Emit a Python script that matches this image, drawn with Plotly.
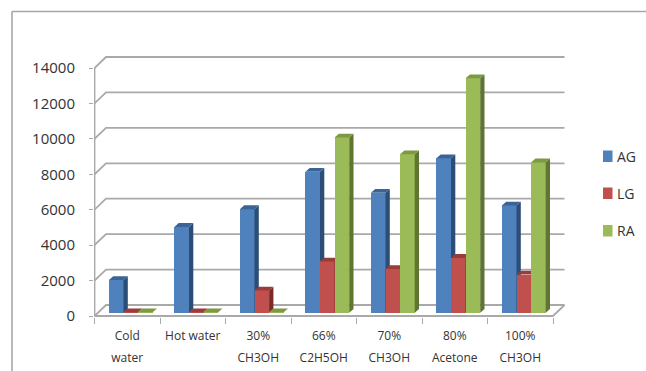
import plotly.graph_objects as go

# Extraction solvents and the measured amounts for each compound
line_one = ["Cold", "Hot water", "30%", "66%", "70%", "80%", "100%"]
line_two = ["water", " ", "CH3OH", "C2H5OH", "CH3OH", "Acetone", "CH3OH"]
y_ticks = [0, 2000, 4000, 6000, 8000, 10000, 12000, 14000]
y_tick_text = ["0", "2000", "4000", "6000", "8000", "10000", "12000", "14000"]

ag_values = [1850, 4850, 5850, 7960, 6770, 8720, 6060]
lg_values = [30, 30, 1260, 2900, 2470, 3100, 2160]
ra_values = [30, 30, 30, 9900, 8950, 13240, 8490]

W, H = 646, 371
PLOT_L, PLOT_R, PLOT_T, PLOT_B = 94, 566, 56, 317
X0_PX, Y0_PX = 94.5, 316
PX_PER_CAT = 65.5
PX_PER_UNIT = 248 / 14000

# Pseudo-3D depth of the chart box and of the bars, in pixels
WALL_DX, WALL_DY = 11.5, 11
BAR_SHIFT_DY = 3.2
BAR_INSET = 14.4
BAR_DX, BAR_DY = 4.3, 3.8
BAR_PX = 14.6


def ux(px):
    return px / PX_PER_CAT


def uy(px):
    return px / PX_PER_UNIT


def px_x(px):
    return (px - PLOT_L) / (PLOT_R - PLOT_L)


def px_y(px):
    return (PLOT_B - px) / (PLOT_B - PLOT_T)


GRID = "#a9a9a9"
fig = go.Figure()

# Floor, back-wall gridlines and the left wall edge
grid_x, grid_y = [], []
for t in y_ticks:
    grid_x += [0, ux(WALL_DX), 7 + ux(WALL_DX), None]
    grid_y += [t, t + uy(WALL_DY), t + uy(WALL_DY), None]
grid_x += [0, 0, None, 0, 7, 7 + ux(WALL_DX)]
grid_y += [0, 14000, None, 0, 0, uy(WALL_DY)]
fig.add_trace(go.Scatter(x=grid_x, y=grid_y, mode="lines", hoverinfo="skip",
                         line=dict(color=GRID, width=1.8), cliponaxis=False,
                         showlegend=False))

series = [
    ("AG", ag_values, "#4f81bd", "#2c4d75", "#3a6496", "x2", "y2"),
    ("LG", lg_values, "#c0504d", "#772c2a", "#9a3d3a", "x3", "y3"),
    ("RA", ra_values, "#9bbb59", "#5f7530", "#7d9a42", "x4", "y4"),
]

for s, (name, values, front, side, top, xa, ya) in enumerate(series):
    lefts = [i + ux(BAR_INSET) + s * ux(BAR_PX) for i in range(7)]
    fig.add_trace(go.Bar(x=[l + ux(BAR_PX) / 2 for l in lefts], y=values,
                         base=uy(BAR_SHIFT_DY), width=ux(BAR_PX), name=name,
                         marker=dict(color=front, line=dict(width=0)),
                         xaxis=xa, yaxis=ya, showlegend=False))
    # Side and top faces of each bar, offset along the depth direction
    sx, sy, tx, ty = [], [], [], []
    for l, v in zip(lefts, values):
        r = l + ux(BAR_PX)
        b = uy(BAR_SHIFT_DY)
        hi = v + b
        sx += [r, r + ux(BAR_DX), r + ux(BAR_DX), r, r, None]
        sy += [b, b + uy(BAR_DY), hi + uy(BAR_DY), hi, b, None]
        tx += [l, l + ux(BAR_DX), r + ux(BAR_DX), r, l, None]
        ty += [hi, hi + uy(BAR_DY), hi + uy(BAR_DY), hi, hi, None]
    for fx, fy, colour in ((sx, sy, side), (tx, ty, top)):
        fig.add_trace(go.Scatter(x=fx, y=fy, mode="lines", fill="toself",
                                 fillcolor=colour, line=dict(width=0),
                                 hoverinfo="skip", showlegend=False,
                                 xaxis=xa, yaxis=ya))

x_range = [(PLOT_L - X0_PX) / PX_PER_CAT, (PLOT_R - X0_PX) / PX_PER_CAT]
y_range = [(Y0_PX - PLOT_B) / PX_PER_UNIT, (Y0_PX - PLOT_T) / PX_PER_UNIT]
centres = [i + 0.5 for i in range(7)]
AX_FONT = dict(family="Open Sans, sans-serif", color="#333333")

hidden = dict(range=x_range, visible=False, fixedrange=True)
hidden_y = dict(range=y_range, visible=False, fixedrange=True, overlaying="y")

# Legend swatches and labels
legend_y = [156, 193, 230.5]
shapes = [
    dict(type="line", xref="paper", yref="paper", x0=px_x(12), x1=px_x(646),
         y0=px_y(11.5), y1=px_y(11.5), line=dict(color="#a6a6a6", width=1.6)),
    dict(type="line", xref="paper", yref="paper", x0=px_x(12), x1=px_x(12),
         y0=px_y(11.5), y1=px_y(371), line=dict(color="#a6a6a6", width=1.6)),
]
annotations = []
for (name, _, front, *_rest), ly in zip(series, legend_y):
    shapes.append(dict(type="rect", xref="paper", yref="paper", x0=px_x(603),
                       x1=px_x(612.5), y0=px_y(ly - 5.5), y1=px_y(ly + 6),
                       fillcolor=front, line=dict(width=0)))
    annotations.append(dict(text=name, xref="paper", yref="paper", x=px_x(615),
                            y=px_y(ly), xanchor="left", yanchor="middle",
                            showarrow=False,
                            font=dict(size=14, **AX_FONT)))

fig.update_layout(
    width=W, height=H, autosize=False,
    margin=dict(l=PLOT_L, r=W - PLOT_R, t=PLOT_T, b=H - PLOT_B, pad=0,
                autoexpand=False),
    paper_bgcolor="white", plot_bgcolor="rgba(0,0,0,0)",
    barmode="overlay", bargap=0, showlegend=False,
    shapes=shapes, annotations=annotations,
    xaxis=dict(range=x_range, tickmode="array", tickvals=centres,
               ticktext=line_one, ticks="", showgrid=False, zeroline=False,
               showline=False, fixedrange=True, tickangle=0, ticklabelstandoff=10,
               tickfont=dict(size=12, **AX_FONT),
               minor=dict(tickmode="array", tickvals=list(range(8)),
                          ticks="outside", ticklen=6, tickcolor=GRID,
                          tickwidth=1.4, showgrid=False)),
    yaxis=dict(range=y_range, tickmode="array", tickvals=y_ticks,
               ticktext=y_tick_text, ticks="outside",
               ticklen=4, tickcolor=GRID, tickwidth=1.4, showgrid=False,
               zeroline=False, showline=False, fixedrange=True,
               ticklabelstandoff=11, tickfont=dict(size=15, **AX_FONT)),
    xaxis2=dict(overlaying="x", anchor="y2", **hidden),
    xaxis3=dict(overlaying="x", anchor="y3", **hidden),
    xaxis4=dict(overlaying="x", anchor="y4", **hidden),
    # Second row of category labels, set lower than plain line breaks would allow
    xaxis5=dict(overlaying="x", anchor="y", range=x_range, tickmode="array",
                tickvals=centres, ticktext=line_two, ticks="", showgrid=False,
                zeroline=False, showline=False, fixedrange=True, tickangle=0,
                ticklabelstandoff=32, tickfont=dict(size=12, **AX_FONT)),
    yaxis2=dict(anchor="x2", **hidden_y),
    yaxis3=dict(anchor="x3", **hidden_y),
    yaxis4=dict(anchor="x4", **hidden_y),
)

# An empty trace keeps the second label axis active
fig.add_trace(go.Scatter(x=[None], y=[None], xaxis="x5", yaxis="y",
                         showlegend=False, hoverinfo="skip"))

fig.write_html("out.html", config=dict(displayModeBar=False))
